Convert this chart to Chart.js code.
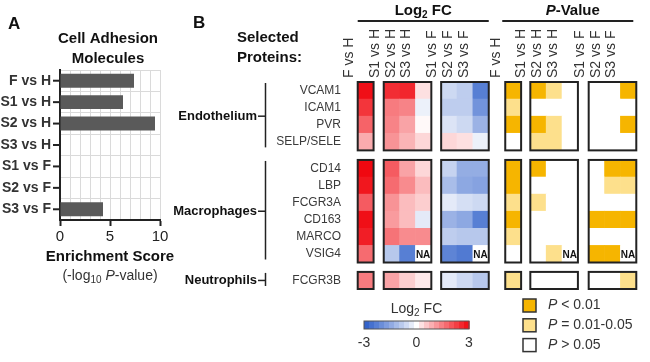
<!DOCTYPE html>
<html>
<head>
<meta charset="utf-8">
<script src="https://cdn.jsdelivr.net/npm/chart.js@4.4.1/dist/chart.umd.min.js"></script>
<style>
  body { margin: 0; background: #fff; }
  #wrap { position: relative; width: 650px; height: 362px; }
  #wrap canvas { position: absolute; left: 0; top: 0; }
</style>
</head>
<body>
<div id="wrap">
  <canvas id="heat" width="650" height="362"></canvas>
  <canvas id="enrich" width="200" height="362"></canvas>
</div>
<script>
// Panel A data
const enrichLabels = ["F vs H", "S1 vs H", "S2 vs H", "S3 vs H", "S1 vs F", "S2 vs F", "S3 vs F"];
const enrichScore = [7.4, 6.3, 9.5, null, null, null, 4.3];
const enrichTicks = [0, 5, 10];

// Panel B data
const comparisons = ["F vs H", "S1 vs H", "S2 vs H", "S3 vs H", "S1 vs F", "S2 vs F", "S3 vs F"];
const proteins = ["VCAM1", "ICAM1", "PVR", "SELP/SELE", "CD14", "LBP", "FCGR3A", "CD163", "MARCO", "VSIG4", "FCGR3B"];
const cellTypes = ["Endothelium", "Macrophages", "Neutrophils"];
const cellTypeSize = [4, 6, 1];
// log2 fold change, one row per protein, columns follow comparisons (null = NA)
const log2FC = [
  [2.9, 2.5, 2.6, 0.3, -0.6, -0.8, -2.3],
  [2.4, 1.5, 1.4, -0.2, -0.8, -0.8, -1.9],
  [1.8, 1.4, 1.0, 0.05, -0.4, -0.6, -1.3],
  [0.9, 1.2, 0.8, 0.4, 0.4, 0.3, -0.2],
  [3.0, 1.9, 1.0, 0.4, -0.7, -1.4, -1.4],
  [2.8, 1.7, 1.3, 0.7, -1.1, -1.5, -1.6],
  [1.9, 1.2, 0.7, 0.5, -0.3, -0.5, -0.6],
  [2.9, 1.1, 0.7, -0.3, -1.3, -1.5, -2.3],
  [2.7, 1.6, 1.3, 1.3, -0.8, -0.9, -0.9],
  [1.7, -0.9, -2.3, null, -2.2, -2.4, null],
  [1.5, 1.0, 0.5, 0.2, -0.3, -0.6, -0.9]
];
// 2 = P < 0.01, 1 = P 0.01-0.05, 0 = P > 0.05 (null = NA)
const pClass = [
  [2, 2, 1, 0, 0, 0, 2],
  [1, 0, 0, 0, 0, 0, 0],
  [2, 2, 1, 0, 0, 0, 2],
  [0, 1, 1, 0, 0, 0, 0],
  [2, 2, 0, 0, 0, 2, 2],
  [2, 0, 0, 0, 0, 1, 1],
  [1, 1, 0, 0, 0, 0, 0],
  [2, 0, 0, 0, 2, 2, 2],
  [1, 0, 0, 0, 0, 0, 0],
  [0, 0, 1, null, 2, 2, null],
  [1, 0, 0, 0, 0, 0, 1]
];
const colorbarTicks = [-3, 0, 3];
const legendLabels = [" < 0.01", " = 0.01-0.05", " > 0.05"];

const FONT = '"Liberation Sans", Arial, sans-serif';
const f = (size, style) => `${style || ''} ${size}px ${FONT}`;

// layout of the heatmap blocks (in cell units)
const groupStart = [0, 4.56, 11.11];
const fcBlocks = [[0, 1], [1.64, 3], [5.26, 3]];
const pBlocks = [[9.30, 1], [10.88, 3], [14.56, 3]];
const xMax = 17.56, yMax = 12.11;
const blockOf = [0, 1, 1, 1, 2, 2, 2], slotOf = [0, 0, 1, 2, 0, 1, 2];
const colX = (blocks, j) => blocks[blockOf[j]][0] + slotOf[j] + 0.5;

const rowTop = [];
cellTypeSize.forEach((n, g) => { for (let i = 0; i < n; i++) rowTop.push(groupStart[g] + i); });

const fcNeg = [42, 92, 200], fcPos = [240, 8, 16];
function fcColor(v) {
  const t = Math.pow(Math.min(Math.abs(v) / 3, 1), 0.9);
  const e = v < 0 ? fcNeg : fcPos;
  return `rgb(${e.map(k => Math.round(255 + (k - 255) * t)).join(',')})`;
}
const pColors = ["#ffffff", "#fde08c", "#f6b500"];
function cellColor(c) {
  if (!c || c.v === null || c.v === undefined) return "#ffffff";
  return c.kind === "fc" ? fcColor(c.v) : pColors[c.v];
}

const cells = [];
proteins.forEach((p, r) => {
  comparisons.forEach((c, j) => {
    cells.push({ x: colX(fcBlocks, j), y: [rowTop[r], rowTop[r] + 1], kind: "fc", v: log2FC[r][j] });
    cells.push({ x: colX(pBlocks, j), y: [rowTop[r], rowTop[r] + 1], kind: "p", v: pClass[r][j] });
  });
});

// writes a row of text pieces: [text, font, dy]
function drawRuns(ctx, runs, x, y, align) {
  let w = 0;
  runs.forEach(r => { ctx.font = r[1]; w += ctx.measureText(r[0]).width; });
  let cx = align === "center" ? x - w / 2 : align === "right" ? x - w : x;
  ctx.textAlign = "left";
  ctx.textBaseline = "middle";
  runs.forEach(r => {
    ctx.font = r[1];
    ctx.fillText(r[0], cx, y + (r[2] || 0));
    cx += ctx.measureText(r[0]).width;
  });
}
function line(ctx, x1, y1, x2, y2) {
  ctx.beginPath(); ctx.moveTo(x1, y1); ctx.lineTo(x2, y2); ctx.stroke();
}

const enrichDecor = {
  id: "enrichDecor",
  afterDraw(chart) {
    const { ctx, chartArea, scales: { y } } = chart;
    ctx.save();
    ctx.fillStyle = "#111";
    drawRuns(ctx, [["A", f(17, "bold")]], 8, 24, "left");
    drawRuns(ctx, [["Cell Adhesion", f(15, "bold")]], 108, 39, "center");
    drawRuns(ctx, [["Molecules", f(15, "bold")]], 108, 59, "center");
    drawRuns(ctx, [["Enrichment Score", f(15, "bold")]], 110, 257, "center");
    ctx.fillStyle = "#333";
    drawRuns(ctx, [["(-log", f(14)], ["10", f(10), 4], [" ", f(14)], ["P", f(14, "italic")], ["-value)", f(14)]], 110, 276, "center");
    ctx.strokeStyle = "#222";
    ctx.lineWidth = 2;
    enrichLabels.forEach((l, i) => {
      const yy = y.getPixelForValue(i);
      line(ctx, chartArea.left - 7, yy, chartArea.left, yy);
    });
    ctx.restore();
  }
};

new Chart(document.getElementById("enrich"), {
  type: "bar",
  data: {
    labels: enrichLabels,
    datasets: [{ data: enrichScore, backgroundColor: "#5a5a5a", barPercentage: 0.65, categoryPercentage: 1 }]
  },
  options: {
    indexAxis: "y",
    responsive: false,
    animation: false,
    devicePixelRatio: 1,
    layout: { padding: { left: 0, right: 40, top: 70, bottom: 112 } },
    plugins: { legend: { display: false }, tooltip: { enabled: false } },
    scales: {
      x: {
        min: 0, max: 10,
        ticks: {
          stepSize: 1, autoSkip: false, maxRotation: 0,
          callback: v => enrichTicks.includes(v) ? v : "",
          font: { family: FONT, size: 15 }, color: "#222", padding: 2
        },
        grid: {
          color: "#dadada", tickLength: 6, tickWidth: 2,
          tickColor: c => c.tick && enrichTicks.includes(c.tick.value) ? "#222" : "rgba(0,0,0,0)"
        },
        border: { color: "#222", width: 2 },
        afterFit: s => { s.height = 30; }
      },
      y: {
        ticks: { font: { family: FONT, size: 14, weight: "bold" }, color: "#333", padding: 9 },
        grid: { offset: true, color: "#dadada", drawTicks: false },
        border: { color: "#222", width: 2 },
        afterFit: s => { s.width = 60; }
      }
    }
  },
  plugins: [enrichDecor]
});

const heatDecor = {
  id: "heatDecor",
  afterDraw(chart) {
    const { ctx, scales: { x, y } } = chart;
    ctx.save();
    ctx.fillStyle = "#111";
    drawRuns(ctx, [["B", f(17, "bold")]], 193, 23, "left");
    drawRuns(ctx, [["Selected", f(15, "bold")]], 237, 38, "left");
    drawRuns(ctx, [["Proteins:", f(15, "bold")]], 237, 58, "left");

    // headers over the two halves
    const fcL = x.getPixelForValue(fcBlocks[0][0]), fcR = x.getPixelForValue(fcBlocks[2][0] + fcBlocks[2][1]);
    const pL = x.getPixelForValue(pBlocks[0][0]), pR = x.getPixelForValue(pBlocks[2][0] + pBlocks[2][1]);
    drawRuns(ctx, [["Log", f(15, "bold")], ["2", f(10, "bold"), 4], [" FC", f(15, "bold")]], (fcL + fcR) / 2, 11, "center");
    drawRuns(ctx, [["P", f(15, "italic bold")], ["-Value", f(15, "bold")]], (pL + pR) / 2 + 2, 11, "center");
    ctx.strokeStyle = "#222";
    ctx.lineWidth = 2;
    line(ctx, fcL, 21, fcR, 21);
    line(ctx, pL - 3, 21, pR - 3, 21);

    // cell type brackets and block frames
    cellTypes.forEach((name, g) => {
      const top = y.getPixelForValue(groupStart[g]);
      const bot = y.getPixelForValue(groupStart[g] + cellTypeSize[g]);
      const mid = (top + bot) / 2;
      ctx.strokeStyle = "#222";
      ctx.lineWidth = 1.5;
      line(ctx, 265.5, top + 1, 265.5, bot - 3);
      line(ctx, 258, mid, 265.5, mid);
      ctx.fillStyle = "#111";
      drawRuns(ctx, [[name, f(13, "bold")]], 257, mid, "right");
      ctx.lineWidth = 2;
      fcBlocks.concat(pBlocks).forEach(([s, n]) => {
        const l = x.getPixelForValue(s), r = x.getPixelForValue(s + n);
        ctx.strokeRect(l, top, r - l, bot - top);
      });
    });

    // NA marks
    ctx.fillStyle = "#111";
    ctx.font = f(10, "bold");
    ctx.textAlign = "right";
    ctx.textBaseline = "bottom";
    cells.filter(c => c.v === null).forEach(c => {
      ctx.fillText("NA", x.getPixelForValue(c.x + 0.5) - 1, y.getPixelForValue(c.y[1]) - 2);
    });

    // colour bar
    const cbL = 364, cbR = 469, cbT = 321, cbB = 329, steps = 21;
    const lo = colorbarTicks[0], hi = colorbarTicks[colorbarTicks.length - 1];
    for (let i = 0; i < steps; i++) {
      ctx.fillStyle = fcColor(lo + (hi - lo) * (i + 0.5) / steps);
      ctx.fillRect(cbL + (cbR - cbL) * i / steps, cbT, (cbR - cbL) / steps + 0.6, cbB - cbT);
    }
    ctx.strokeStyle = "#555";
    ctx.lineWidth = 1;
    ctx.strokeRect(cbL, cbT, cbR - cbL, cbB - cbT);
    ctx.fillStyle = "#333";
    drawRuns(ctx, [["Log", f(14)], ["2", f(10), 4], [" FC", f(14)]], (cbL + cbR) / 2, 309, "center");
    colorbarTicks.forEach(v => {
      drawRuns(ctx, [[String(v), f(14)]], cbL + (cbR - cbL) * (v - lo) / (hi - lo), 343, "center");
    });

    // P legend
    [2, 1, 0].forEach((cls, i) => {
      const yy = 299 + i * 19.8;
      ctx.fillStyle = pColors[cls];
      ctx.fillRect(523, yy, 13, 13);
      ctx.strokeStyle = "#333";
      ctx.lineWidth = 1.5;
      ctx.strokeRect(523, yy, 13, 13);
      ctx.fillStyle = "#333";
      drawRuns(ctx, [["P", f(14, "italic")], [legendLabels[i], f(14)]], 548, yy + 6.5, "left");
    });
    ctx.restore();
  }
};

new Chart(document.getElementById("heat"), {
  type: "bar",
  data: {
    datasets: [{
      data: cells,
      backgroundColor: c => cellColor(c.raw),
      borderWidth: 0,
      barPercentage: 1,
      categoryPercentage: 1
    }]
  },
  options: {
    responsive: false,
    animation: false,
    devicePixelRatio: 1,
    layout: { padding: { left: 0, right: 3, top: 0, bottom: 73 } },
    plugins: { legend: { display: false }, tooltip: { enabled: false } },
    scales: {
      x: {
        type: "linear", position: "top", min: 0, max: xMax,
        afterBuildTicks: s => {
          s.ticks = comparisons.map((c, j) => ({ value: colX(fcBlocks, j) }))
            .concat(comparisons.map((c, j) => ({ value: colX(pBlocks, j) })));
        },
        ticks: {
          autoSkip: false, minRotation: 90, maxRotation: 90, padding: 4,
          callback: (v, i) => comparisons[i % comparisons.length],
          font: { family: FONT, size: 14 }, color: "#333"
        },
        grid: { display: false, drawTicks: false },
        border: { display: false },
        afterFit: s => { s.height = 82; }
      },
      y: {
        type: "linear", reverse: true, min: 0, max: yMax,
        afterBuildTicks: s => { s.ticks = proteins.map((p, r) => ({ value: rowTop[r] + 0.5 })); },
        ticks: {
          autoSkip: false, padding: 6,
          callback: (v, i) => proteins[i],
          font: { family: FONT, size: 12 }, color: "#3a3a3a"
        },
        grid: { display: false, drawTicks: false },
        border: { display: false },
        afterFit: s => { s.width = 347; }
      }
    }
  },
  plugins: [heatDecor]
});
</script>
</body>
</html>
